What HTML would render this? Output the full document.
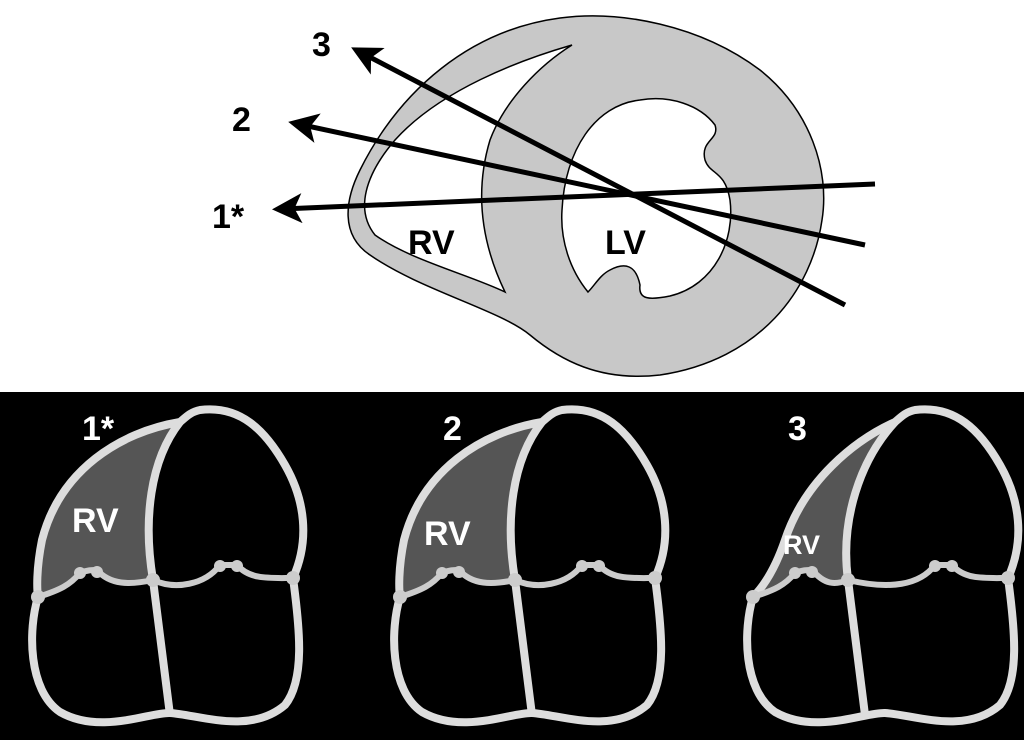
<!DOCTYPE html>
<html><head><style>body{margin:0;width:1024px;height:740px;overflow:hidden;background:#fff}</style></head>
<body>
<svg width="1024" height="740" viewBox="0 0 1024 740" xmlns="http://www.w3.org/2000/svg" font-family="Liberation Sans, sans-serif" font-weight="bold">
<defs>
<marker id="ah" markerWidth="6" markerHeight="6" refX="4" refY="3" orient="auto" markerUnits="strokeWidth"><path d="M6,3 L0,0 L1.5,3 L0,6 Z" fill="#000"/></marker>
</defs>
<rect x="0" y="0" width="1024" height="392" fill="#fff"/>
<path d="M560,18 C620,10 700,25 760,70 C810,110 830,170 822,220 C812,290 760,360 660,375 C600,382 560,360 530,335 C500,310 420,290 370,255 C340,235 345,200 360,170 C400,90 470,30 560,18 Z" fill="#c8c8c8" stroke="#000" stroke-width="1.5"/>
<path d="M572,45 C520,60 440,90 395,140 C365,175 355,210 375,235 C410,260 470,275 505,292 C480,240 475,190 490,140 C505,100 540,65 572,45 Z" fill="#fff" stroke="#000" stroke-width="1.5"/>
<path d="M640,100 C670,95 700,105 715,125 C720,140 700,140 705,160 C710,175 725,170 730,200 C735,240 715,285 670,296 C650,300 638,300 640,285 C636,265 625,262 610,270 C600,275 595,285 588,292 C570,270 560,240 562,210 C565,150 595,105 640,100 Z" fill="#fff" stroke="#000" stroke-width="1.5"/>
<g stroke="#000" stroke-width="5" fill="none">
<line x1="875" y1="184" x2="282" y2="209" marker-end="url(#ah)"/>
<line x1="865" y1="245" x2="298" y2="124" marker-end="url(#ah)"/>
<line x1="845" y1="305" x2="360" y2="52" marker-end="url(#ah)"/>
</g>
<g font-size="34" fill="#000">
<text x="312" y="56">3</text>
<text x="232" y="131">2</text>
<text x="212" y="228">1*</text>
<text x="408" y="254">RV</text>
<text x="605" y="254">LV</text>
</g>
<rect x="0" y="392" width="1024" height="348" fill="#000"/>
<g id="h1">
<path d="M180,422 C120,432 60,470 42,540 C36,570 37,590 38,597 C60,590 70,585 80,573 L97,570 C110,585 130,585 153,580 C143,520 150,460 180,422 Z" fill="#555"/>
<g fill="none" stroke="#ddd" stroke-width="8" stroke-linejoin="round">
<path d="M180,422 C120,432 60,470 42,540 C36,570 37,590 38,597 C28,630 28,690 60,712 C100,735 150,712 170,713 C200,715 250,735 285,705 C305,680 300,630 293,578 C310,540 305,500 285,465 C265,430 240,405 200,410 C190,412 185,418 180,422 Z"/>
<path d="M180,422 C150,460 143,520 153,580 L170,715"/>
<path d="M38,597 C60,590 70,585 80,573 C87,570 92,570 97,570 C110,585 130,585 153,580 C175,590 205,585 220,565 L237,565 C250,580 270,578 293,578" stroke-width="6" stroke="#ccc"/>
</g>
<g fill="#ccc"><circle cx="80" cy="573" r="6"/><circle cx="97" cy="572" r="6"/><circle cx="220" cy="566" r="6"/><circle cx="237" cy="566" r="6"/><circle cx="153" cy="580" r="7"/><circle cx="38" cy="597" r="7"/><circle cx="293" cy="578" r="7"/></g>
</g>
<use href="#h1" transform="translate(362,0)"/>
<g transform="translate(715,0)">
<path d="M180,422 C140,440 90,480 70,540 C58,575 45,590 38,597 C60,590 70,585 80,573 L97,570 C110,585 120,585 133,580 C125,520 145,460 180,422 Z" fill="#555"/>
<g fill="none" stroke="#ddd" stroke-width="8" stroke-linejoin="round">
<path d="M180,422 C140,440 90,480 70,540 C58,575 45,590 38,597 C28,630 28,690 60,712 C100,735 150,712 170,713 C200,715 250,735 285,705 C305,680 300,630 293,578 C310,540 305,500 285,465 C265,430 240,405 200,410 C190,412 185,418 180,422 Z"/>
<path d="M180,422 C145,460 125,520 133,580 L150,715"/>
<path d="M38,597 C60,590 70,585 80,573 C87,570 92,570 97,570 C110,585 120,585 133,580 C175,590 205,585 220,565 L237,565 C250,580 270,578 293,578" stroke-width="6" stroke="#ccc"/>
</g>
<g fill="#ccc"><circle cx="80" cy="573" r="6"/><circle cx="97" cy="572" r="6"/><circle cx="220" cy="566" r="6"/><circle cx="237" cy="566" r="6"/><circle cx="133" cy="580" r="7"/><circle cx="38" cy="597" r="7"/><circle cx="293" cy="578" r="7"/></g>
</g>
<g fill="#fff" font-size="34">
<text x="82" y="440">1*</text>
<text x="443" y="440">2</text>
<text x="788" y="440">3</text>
<text x="72" y="532">RV</text>
<text x="424" y="545">RV</text>
<text font-size="27" x="783" y="554">RV</text>
</g>
</svg>
</body></html>
